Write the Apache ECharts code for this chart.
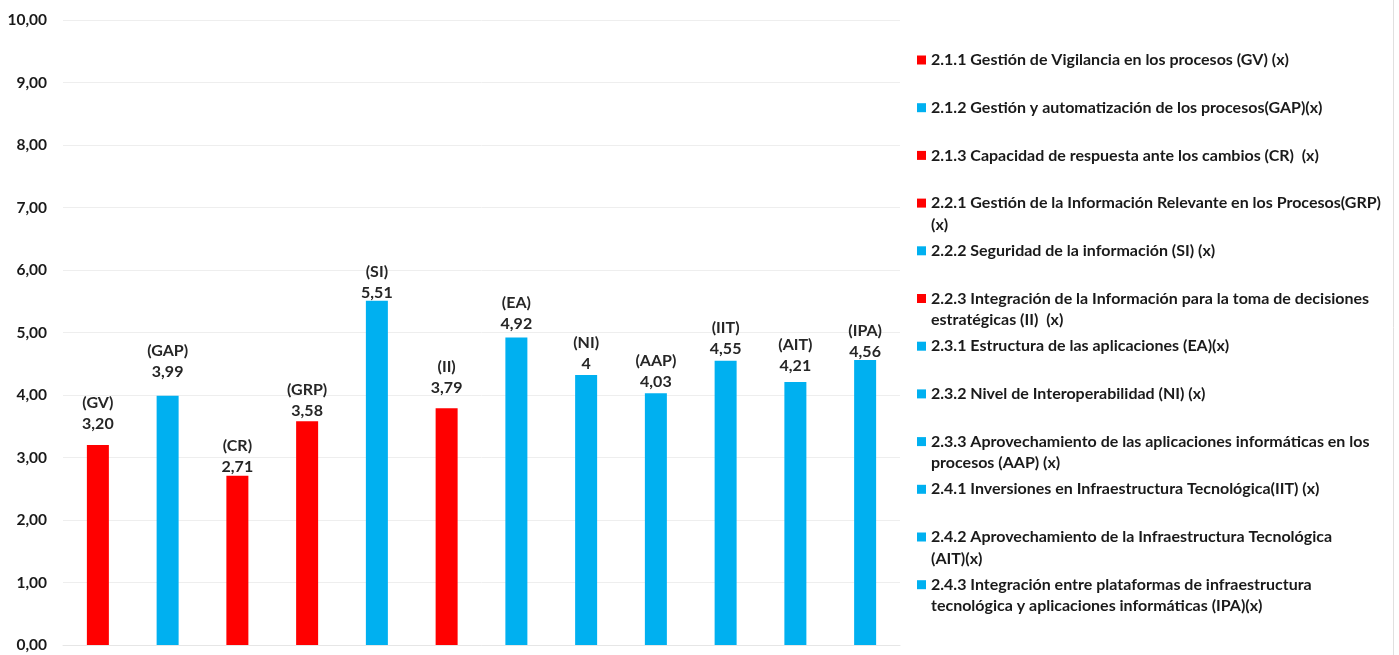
<!DOCTYPE html>
<html>
<head>
<meta charset="utf-8">
<script src="https://cdn.jsdelivr.net/npm/echarts@6/dist/echarts.min.js"></script>
<style>
  html, body { margin: 0; padding: 0; background: #ffffff; }
  #chart { width: 1399px; height: 655px; }
</style>
</head>
<body>
<div id="chart"></div>
<script>
// Indicadores evaluados (nombre completo, con saltos de línea de la leyenda)
const names = [
  '2.1.1 Gestión de Vigilancia en los procesos (GV) (x)',
  '2.1.2 Gestión y automatización de los procesos(GAP)(x)',
  '2.1.3 Capacidad de respuesta ante los cambios (CR)  (x)',
  '2.2.1 Gestión de la Información Relevante en los Procesos(GRP)\n(x)',
  '2.2.2 Seguridad de la información (SI) (x)',
  '2.2.3 Integración de la Información para la toma de decisiones\nestratégicas (II)  (x)',
  '2.3.1 Estructura de las aplicaciones (EA)(x)',
  '2.3.2 Nivel de Interoperabilidad (NI) (x)',
  '2.3.3 Aprovechamiento de las aplicaciones informáticas en los\nprocesos (AAP) (x)',
  '2.4.1 Inversiones en Infraestructura Tecnológica(IIT) (x)',
  '2.4.2 Aprovechamiento de la Infraestructura Tecnológica\n(AIT)(x)',
  '2.4.3 Integración entre plataformas de infraestructura\ntecnológica y aplicaciones informáticas (IPA)(x)'
];
// Siglas mostradas sobre cada barra
const abbrs = ['GV', 'GAP', 'CR', 'GRP', 'SI', 'II', 'EA', 'NI', 'AAP', 'IIT', 'AIT', 'IPA'];
// Puntaje de cada indicador
const values = [3.20, 3.99, 2.71, 3.58, 5.51, 3.79, 4.92, 4.32, 4.03, 4.55, 4.21, 4.56];
// Decimales con que se rotula cada puntaje
const decimals = [2, 2, 2, 2, 2, 2, 2, 0, 2, 2, 2, 2];
// Grupo de color: 'r' = rojo, 'b' = azul
const groups = ['r', 'b', 'r', 'r', 'b', 'r', 'b', 'b', 'b', 'b', 'b', 'b'];
// Marcas del eje vertical
const yTicks = [0, 1, 2, 3, 4, 5, 6, 7, 8, 9, 10];

const palette = { r: '#FF0000', b: '#00B0F0' };
const FONT = 'Lato';
const fmt = (v, d) => v.toFixed(d).replace('.', ',');

// Separación (px) entre el tope de cada barra y su rótulo
const labelLift = [11, 13, -2, 0, -3, 10, 3.5, 1, 0.5, 1.5, 6, -2.5];

const chart = echarts.init(document.getElementById('chart'), null, { renderer: 'canvas' });

const series = names.map((name, i) => ({
  type: 'bar',
  name: name,
  barWidth: 22,
  barGap: '-100%',
  itemStyle: { color: palette[groups[i]] },
  label: {
    show: true,
    position: 'top',
    distance: labelLift[i],
    fontFamily: FONT,
    fontSize: 16,
    fontWeight: 'bold',
    lineHeight: 21,
    color: '#262626',
    formatter: () => '(' + abbrs[i] + ')\n' + fmt(values[i], decimals[i])
  },
  data: values.map((v, j) => (j === i ? v : '-'))
}));

// Leyenda a la derecha: un bloque por indicador, con paso vertical fijo.
// Los nombres de dos renglones llevan un renglón vacío arriba para que
// el cuadro de color quede a la altura del primer renglón.
const LINE = 21.5;
const firstCenter = 60;
const step = 47.7;
const legends = names.map((name, i) => {
  const n = name.split('\n').length;
  const center = firstCenter + i * step;
  return {
    data: [name],
    orient: 'vertical',
    left: 917,
    top: center - (2 * n - 1) * LINE / 2,
    padding: 0,
    itemWidth: 9,
    itemHeight: 9,
    icon: 'rect',
    selectedMode: false,
    formatter: t => (n > 1 ? '\n'.repeat(n - 1) : '') + t,
    textStyle: {
      fontFamily: FONT,
      fontSize: 16,
      fontWeight: 'bold',
      color: '#1a1a1a',
      lineHeight: LINE
    }
  };
});

chart.setOption({
  animation: false,
  backgroundColor: '#ffffff',
  grid: { left: 63, right: 499, top: 20, bottom: 10, containLabel: false },
  xAxis: {
    type: 'category',
    data: abbrs,
    axisLine: { show: true, lineStyle: { color: '#e6e6e6', width: 1 } },
    axisTick: { show: false },
    axisLabel: { show: false }
  },
  yAxis: {
    type: 'value',
    min: yTicks[0],
    max: yTicks[yTicks.length - 1],
    interval: 1,
    axisLine: { show: false },
    axisTick: { show: false },
    splitLine: { lineStyle: { color: '#eeeeee', width: 1 } },
    axisLabel: {
      margin: 16,
      fontFamily: FONT,
      fontSize: 15.5,
      fontWeight: 'bold',
      color: '#1a1a1a',
      formatter: v => fmt(v, 2)
    }
  },
  legend: legends,
  graphic: [{
    type: 'line',
    shape: { x1: 1393.5, y1: 0, x2: 1393.5, y2: 655 },
    style: { stroke: '#e0e0e0', lineWidth: 1 }
  }],
  series: series
});
</script>
</body>
</html>
